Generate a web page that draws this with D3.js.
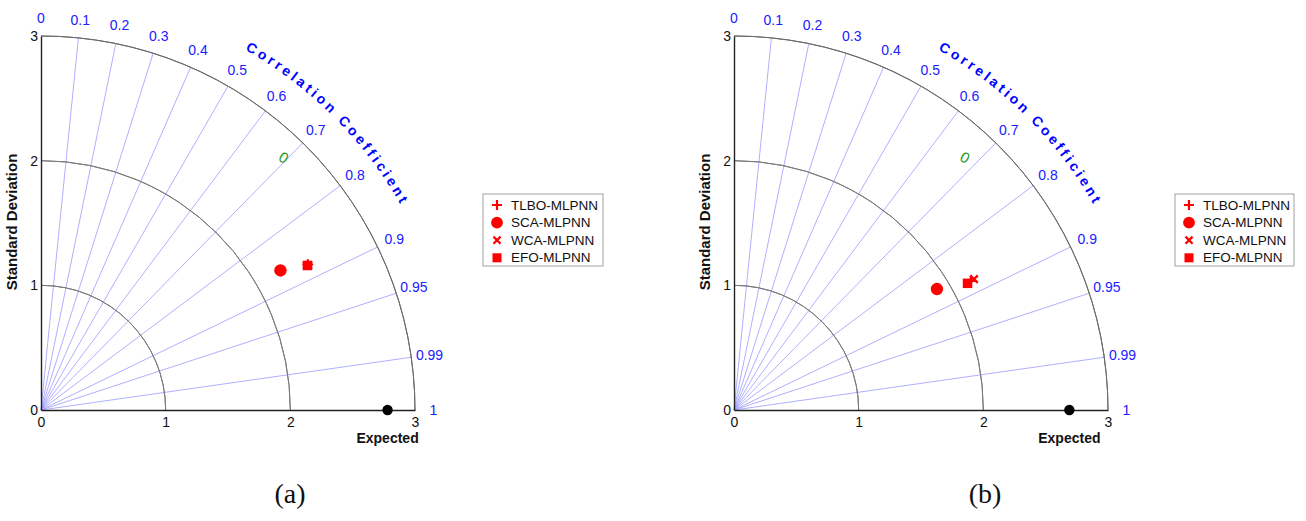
<!DOCTYPE html>
<html>
<head>
<meta charset="utf-8">
<script src="https://cdn.jsdelivr.net/npm/d3@7"></script>
<style>
  html, body { margin: 0; padding: 0; background: #fff; }
  svg { display: block; }
</style>
</head>
<body>
<svg id="chart" width="1306" height="521"></svg>
<script>
// Model names shown in the legends
const models = ["TLBO-MLPNN", "SCA-MLPNN", "WCA-MLPNN", "EFO-MLPNN"];
const markerKinds = ["plus", "circle", "times", "square"];

// Panel (a): standard deviation and correlation of each model
const stdA  = [2.438, 2.223, 2.440, 2.431];
const corrA = [0.878, 0.864, 0.879, 0.879];
const refStdA = 2.78;

// Panel (b)
const stdB  = [2.164, 1.895, 2.193, 2.131];
const corrB = [0.878, 0.859, 0.878, 0.879];
const refStdB = 2.69;

// Axes / grid ticks
const stdTicks = [0, 1, 2, 3];
const stdArcs = [1, 2];
const corrGrid = [0.1, 0.2, 0.3, 0.4, 0.5, 0.6, 0.7, 0.8, 0.9, 0.95, 0.99];
const corrLabels = [0, 0.1, 0.2, 0.3, 0.4, 0.5, 0.6, 0.7, 0.8, 0.9, 0.95, 0.99, 1];

// Centred-RMS contour label (value, std, corr)
const rmsLabelA = { text: "0", std: 2.810, corr: 0.693 };
const rmsLabelB = { text: "0", std: 2.746, corr: 0.675 };

const SANS = "'Liberation Sans', Arial, sans-serif";
const SERIF = "'Liberation Serif', 'Times New Roman', serif";
const svg = d3.select("#chart");
const RED = "#ff0000";
const BLUE = "#2020ff";

// width measurement for laying characters along an arc
const measureCtx = document.createElement("canvas").getContext("2d");
function charWidth(ch, font) {
  measureCtx.font = font;
  return measureCtx.measureText(ch).width;
}

function markerPath(kind, s) {
  const h = s / 2;
  if (kind === "plus") return `M${-h},0H${h}M0,${-h}V${h}`;
  return `M${-h},${-h}L${h},${h}M${-h},${h}L${h},${-h}`;
}

function drawMarker(g, kind, x, y, k) {
  k = k || 1;
  if (kind === "circle") {
    g.append("circle").attr("cx", x).attr("cy", y).attr("r", 6.2 * k).attr("fill", RED);
  } else if (kind === "square") {
    const s = 9.5 * k;
    g.append("rect").attr("x", x - s / 2).attr("y", y - s / 2)
      .attr("width", s).attr("height", s).attr("fill", RED);
  } else {
    const s = kind === "plus" ? 10.5 * k : 7.5 * k;
    g.append("path").attr("transform", `translate(${x},${y})`)
      .attr("d", markerPath(kind, s))
      .attr("stroke", RED).attr("stroke-width", 2.2).attr("fill", "none");
  }
}

function drawPanel(cfg) {
  const maxStd = 3;
  const R = 374;
  const r = d3.scaleLinear().domain([0, maxStd]).range([0, R]);
  const g = svg.append("g").attr("transform", `translate(${cfg.cx},${cfg.cy})`);
  const pt = (s, c) => {
    const a = Math.acos(c);
    return [r(s) * Math.cos(a), -r(s) * Math.sin(a)];
  };

  // radial correlation lines
  g.selectAll("line.corr").data(corrGrid).join("line")
    .attr("x1", 0).attr("y1", 0)
    .attr("x2", d => pt(maxStd, d)[0]).attr("y2", d => pt(maxStd, d)[1])
    .attr("stroke", "#9a9aff").attr("stroke-width", 0.8);

  // std arcs
  const arc = d3.arc().startAngle(0).endAngle(Math.PI / 2);
  g.selectAll("path.std").data(stdArcs).join("path")
    .attr("d", d => arc({ innerRadius: r(d), outerRadius: r(d) }))
    .attr("fill", "none").attr("stroke", "#7a7a7a").attr("stroke-width", 1);
  g.append("path")
    .attr("d", arc({ innerRadius: R, outerRadius: R }))
    .attr("fill", "none").attr("stroke", "#6a6a6a").attr("stroke-width", 1);

  // axes
  const yScale = d3.scaleLinear().domain([0, maxStd]).range([0, -R]);
  const xScale = d3.scaleLinear().domain([0, maxStd]).range([0, R]);
  const yAxis = g.append("g")
    .call(d3.axisLeft(yScale).tickValues(stdTicks).tickFormat(d3.format("d")).tickSize(0).tickPadding(3));
  const xAxis = g.append("g")
    .call(d3.axisBottom(xScale).tickValues(stdTicks).tickFormat(d3.format("d")).tickSize(0).tickPadding(7));
  [yAxis, xAxis].forEach(a => {
    a.select(".domain").attr("stroke", "#222").attr("stroke-width", 1.4);
    a.selectAll("text").attr("fill", "#111")
      .style("font-size", "14px").style("font-family", SANS);
  });

  // correlation tick labels
  g.selectAll("text.corrLab").data(corrLabels).join("text")
    .attr("x", d => pt(3.148, d)[0]).attr("y", d => pt(3.148, d)[1])
    .attr("text-anchor", "middle").attr("dominant-baseline", "central")
    .style("font-size", "14px").style("font-family", SANS).attr("fill", BLUE)
    .text(d => String(d));

  // curved axis title, one glyph at a time along the arc
  const title = "Correlation Coefficient";
  const font = `bold 14px ${SANS}`;
  const spacing = 3.2, rt = 414, midDeg = 45.15;
  const widths = Array.from(title).map(ch => charWidth(ch, font));
  const total = d3.sum(widths) + spacing * (widths.length - 1);
  let s = 0;
  const glyphs = Array.from(title).map((ch, i) => {
    const c = s + widths[i] / 2;
    s += widths[i] + spacing;
    const ang = midDeg * Math.PI / 180 + (total / 2 - c) / rt;
    return { ch, ang };
  }).filter(d => d.ch !== " ");
  g.selectAll("text.ctitle").data(glyphs).join("text")
    .attr("transform", d => `translate(${rt * Math.cos(d.ang)},${-rt * Math.sin(d.ang)}) rotate(${90 - d.ang * 180 / Math.PI})`)
    .attr("text-anchor", "middle")
    .style("font", font).attr("fill", "#0000ff")
    .text(d => d.ch);

  // y-axis title
  g.append("text")
    .attr("transform", `translate(${-24},${-188}) rotate(-90)`)
    .attr("text-anchor", "middle")
    .style("font", `bold 15px ${SANS}`)
    .attr("fill", "#111").text("Standard Deviation");

  // RMS contour label
  const lp = pt(cfg.rms.std, cfg.rms.corr);
  g.append("text").attr("transform", `translate(${lp[0]},${lp[1]}) rotate(30)`)
    .attr("text-anchor", "middle").attr("dominant-baseline", "central")
    .style("font", `15px ${SANS}`).attr("fill", "#1f9a1f").text(cfg.rms.text);

  // reference point
  g.append("circle").attr("cx", r(cfg.refStd)).attr("cy", 0).attr("r", 5.2).attr("fill", "#000");
  g.append("text").attr("x", r(cfg.refStd)).attr("y", 33)
    .attr("text-anchor", "middle")
    .style("font", `bold 14px ${SANS}`)
    .attr("fill", "#111").text("Expected");

  // model points
  models.forEach((m, i) => {
    const p = pt(cfg.std[i], cfg.corr[i]);
    drawMarker(g, markerKinds[i], p[0], p[1]);
  });

  // legend
  const lg = svg.append("g").attr("transform", `translate(${cfg.legend[0]},${cfg.legend[1]})`);
  lg.append("rect").attr("x", 0).attr("y", 0).attr("width", cfg.legend[2]).attr("height", 72)
    .attr("fill", "#fff").attr("stroke", "#a0a0a0").attr("stroke-width", 1);
  models.forEach((m, i) => {
    const y = 11 + i * 17.6;
    drawMarker(lg, markerKinds[i], 14, y, 0.95);
    lg.append("text").attr("x", 28).attr("y", y).attr("dominant-baseline", "central")
      .style("font", `13.5px ${SANS}`).attr("fill", "#111").text(m);
  });

  // panel caption
  svg.append("text").attr("x", cfg.caption[0]).attr("y", cfg.caption[1])
    .attr("text-anchor", "middle")
    .style("font", `28px ${SERIF}`)
    .attr("fill", "#111").text(cfg.captionText);
}

drawPanel({ key: "a", cx: 41, cy: 410, std: stdA, corr: corrA, refStd: refStdA, rms: rmsLabelA,
  legend: [483, 194, 120], caption: [290, 503], captionText: "(a)" });
drawPanel({ key: "b", cx: 734, cy: 410, std: stdB, corr: corrB, refStd: refStdB, rms: rmsLabelB,
  legend: [1175, 194, 119], caption: [985, 503], captionText: "(b)" });
</script>
</body>
</html>
